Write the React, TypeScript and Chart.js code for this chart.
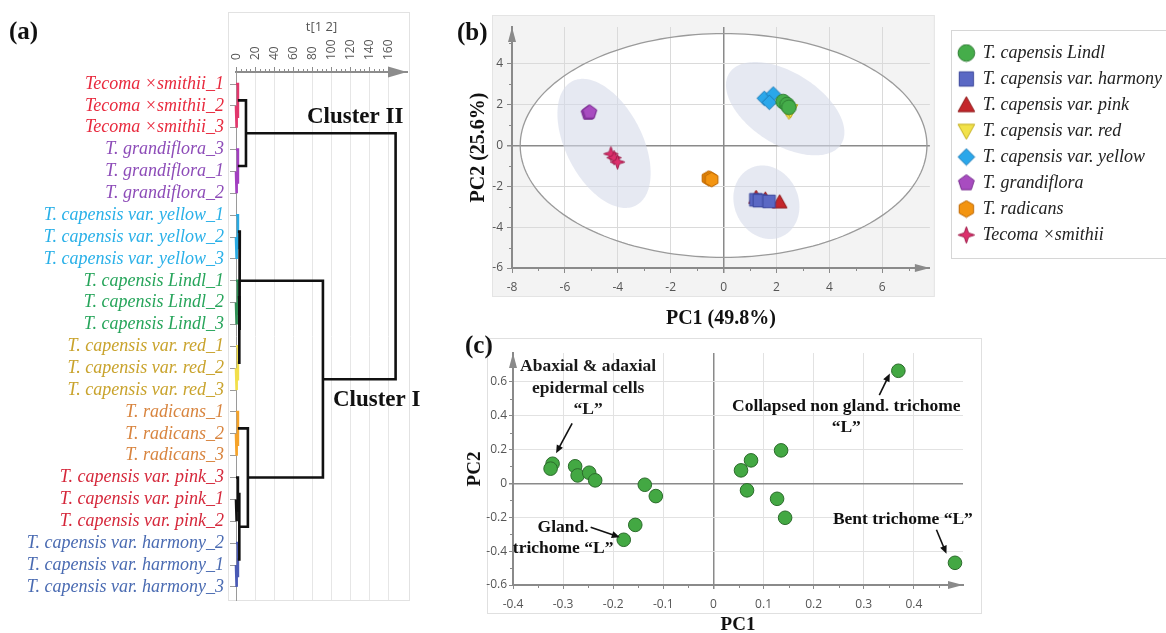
import React, { useEffect, useRef } from 'react';
import { Chart, registerables } from 'chart.js';

Chart.register(...registerables);

const SERIF = '"Liberation Serif", "Times New Roman", serif';
const SANS = '"Open Sans", "DejaVu Sans", Arial, sans-serif';

// ---------------- Panel (a): hierarchical clustering dendrogram ----------------
const leafLabels = [
  'Tecoma ×smithii_1', 'Tecoma ×smithii_2', 'Tecoma ×smithii_3',
  'T. grandiflora_3', 'T. grandiflora_1', 'T. grandiflora_2',
  'T. capensis var. yellow_1', 'T. capensis var. yellow_2', 'T. capensis var. yellow_3',
  'T. capensis Lindl_1', 'T. capensis Lindl_2', 'T. capensis Lindl_3',
  'T. capensis var. red_1', 'T. capensis var. red_2', 'T. capensis var. red_3',
  'T. radicans_1', 'T. radicans_2', 'T. radicans_3',
  'T. capensis var. pink_3', 'T. capensis var. pink_1', 'T. capensis var. pink_2',
  'T. capensis var. harmony_2', 'T. capensis var. harmony_1', 'T. capensis var. harmony_3',
];
const leafGroup = [0, 0, 0, 1, 1, 1, 2, 2, 2, 3, 3, 3, 4, 4, 4, 5, 5, 5, 6, 6, 6, 7, 7, 7];
const leafGroupColors = ['#e8293d', '#8d4cb8', '#29b0e8', '#27a55b', '#c9a32c', '#d8843e', '#d5283b', '#4a6bb2'];
const distanceTicks = [0, 20, 40, 60, 80, 100, 120, 140, 160];
// each merge joins two nodes (leaves 0..23, merged nodes 24..)
const mergePairs = [
  [1, 2], [0, 24],
  [4, 5], [3, 26],
  [25, 27],
  [7, 8], [6, 29],
  [10, 11], [9, 31],
  [13, 14], [12, 33],
  [32, 34],
  [30, 35],
  [16, 17], [15, 37],
  [19, 20], [18, 39],
  [22, 23], [21, 41],
  [40, 42],
  [38, 43],
  [36, 44],
  [28, 45],
];
const mergeHeights = [1, 2, 1, 2, 10.5, 1, 2, 1, 2, 1, 2, 3.5, 4, 1, 2, 1, 2, 1, 2, 3.5, 12.5, 91.5, 168];
const mergeColors = [
  '#e2386d', '#e2386d', '#a23fc0', '#a23fc0', '#111111',
  '#2aaae2', '#2aaae2', '#2f8f55', '#2f8f55', '#f2df4a', '#f2df4a',
  '#111111', '#111111', '#f5a32a', '#f5a32a', '#111111', '#111111',
  '#4a5ab5', '#4a5ab5', '#111111', '#111111', '#111111', '#111111',
];
const clusterNames = ['Cluster II', 'Cluster I'];
const clusterNameDistance = [74.7, 102];
const clusterNameLeafPos = [1.5, 14.45];

// ---------------- Panel (b): PCA score plot ----------------
const groupNames = [
  'T. capensis Lindl', 'T. capensis var. harmony', 'T. capensis var. pink', 'T. capensis var. red',
  'T. capensis var. yellow', 'T. grandiflora', 'T. radicans', 'Tecoma ×smithii',
];
const lindlPC1 = [2.25, 2.4, 2.47];
const lindlPC2 = [2.15, 2.0, 1.87];
const harmonyPC1 = [1.22, 1.35, 1.72];
const harmonyPC2 = [-2.66, -2.7, -2.74];
const pinkPC1 = [1.23, 1.58, 2.12];
const pinkPC2 = [-2.55, -2.63, -2.77];
const redPC1 = [2.4, 2.47, 2.53];
const redPC2 = [1.79, 1.63, 1.71];
const yellowPC1 = [1.54, 1.88, 1.73];
const yellowPC2 = [2.31, 2.52, 2.11];
const grandifloraPC1 = [-5.12, -5.09, -5.06];
const grandifloraPC2 = [1.58, 1.6, 1.63];
const radicansPC1 = [-0.57, -0.51, -0.45];
const radicansPC2 = [-1.6, -1.63, -1.67];
const smithiiPC1 = [-4.26, -4.14, -4.01];
const smithiiPC2 = [-0.41, -0.6, -0.81];
const groupPC1 = [lindlPC1, harmonyPC1, pinkPC1, redPC1, yellowPC1, grandifloraPC1, radicansPC1, smithiiPC1];
const groupPC2 = [lindlPC2, harmonyPC2, pinkPC2, redPC2, yellowPC2, grandifloraPC2, radicansPC2, smithiiPC2];
const groupShapes = ['circle', 'square', 'triUp', 'triDown', 'diamond', 'pentagon', 'hexagon', 'star4'];
const groupFill = ['#45ad4a', '#5a68c4', '#c4262b', '#f2e24a', '#2aa7ea', '#a84cc0', '#f39410', '#dd2f6c'];
const groupStroke = ['#2c7a31', '#38449a', '#8c1717', '#c2ac1c', '#1a78b5', '#772e8e', '#bd6600', '#9e1a48'];
const pcaXTicks = [-8, -6, -4, -2, 0, 2, 4, 6];
const pcaYTicks = [-6, -4, -2, 0, 2, 4];
const hotellingSemiAxes = [7.69, 5.48];
const clusterEllipseCenters = [[-4.52, 0.1], [2.33, 1.8], [1.62, -2.78]];
const clusterEllipseAxisU = [[1.19, -3.05], [2.11, -1.75], [0.15, -1.8]];
const clusterEllipseAxisV = [[-1.3, -0.83], [-0.75, -1.47], [1.24, 0]];

// ---------------- Panel (c): PCA loading plot ----------------
const loadingPC1 = [-0.321, -0.325, -0.276, -0.271, -0.248, -0.236, -0.137, -0.115, -0.156, -0.179, 0.055, 0.075, 0.067, 0.135, 0.127, 0.143, 0.369, 0.482];
const loadingPC2 = [0.116, 0.087, 0.101, 0.047, 0.063, 0.018, -0.008, -0.075, -0.245, -0.333, 0.077, 0.136, -0.041, 0.195, -0.091, -0.203, 0.665, -0.469];
const loadXTicks = [-0.4, -0.3, -0.2, -0.1, 0, 0.1, 0.2, 0.3, 0.4];
const loadYTicks = [-0.6, -0.4, -0.2, 0, 0.2, 0.4, 0.6];
const noteLines = [
  ['Abaxial & adaxial', 'epidermal cells', '“L”'],
  ['Gland.', 'trichome “L”'],
  ['Collapsed non gland. trichome', '“L”'],
  ['Bent trichome “L”'],
];
const noteX = [-0.25, -0.3, 0.265, 0.378];
const noteY = [[0.692, 0.562, 0.438], [-0.26, -0.385], [0.456, 0.333], [-0.213]];
const noteArrowFrom = [[-0.282, 0.355], [-0.245, -0.259], [0.331, 0.521], [0.445, -0.274]];
const noteArrowTo = [[-0.314, 0.178], [-0.187, -0.318], [0.352, 0.649], [0.465, -0.416]];

// ---------------- helpers ----------------
function makeMarker(shape: string, fill: string, stroke: string, size: number): HTMLCanvasElement {
  const c = document.createElement('canvas');
  c.width = size;
  c.height = size;
  const g = c.getContext('2d') as CanvasRenderingContext2D;
  const m = size / 2;
  const r = m - 1.2;
  const poly = (n: number, start: number, radii: number[]) => {
    for (let k = 0; k < n; k++) {
      const a = start + (k * 2 * Math.PI) / n;
      const rr = radii[k % radii.length];
      const x = m + rr * Math.cos(a);
      const y = m + rr * Math.sin(a);
      if (k === 0) g.moveTo(x, y);
      else g.lineTo(x, y);
    }
    g.closePath();
  };
  g.beginPath();
  if (shape === 'circle') g.arc(m, m, r, 0, Math.PI * 2);
  else if (shape === 'square') g.rect(m - r * 0.86, m - r * 0.86, r * 1.72, r * 1.72);
  else if (shape === 'triUp') {
    g.moveTo(m, m - r);
    g.lineTo(m + r, m + r * 0.8);
    g.lineTo(m - r, m + r * 0.8);
    g.closePath();
  } else if (shape === 'triDown') {
    g.moveTo(m, m + r);
    g.lineTo(m + r, m - r * 0.8);
    g.lineTo(m - r, m - r * 0.8);
    g.closePath();
  } else if (shape === 'diamond') poly(4, -Math.PI / 2, [r]);
  else if (shape === 'pentagon') poly(5, -Math.PI / 2, [r]);
  else if (shape === 'hexagon') poly(6, -Math.PI / 2, [r]);
  else poly(8, -Math.PI / 2, [r, r * 0.36]);
  g.fillStyle = fill;
  g.fill();
  g.lineWidth = 1;
  g.strokeStyle = stroke;
  g.stroke();
  return c;
}

function arrowHead(ctx: CanvasRenderingContext2D, tx: number, ty: number, dx: number, dy: number, len: number, half: number, color: string) {
  const d = Math.hypot(dx, dy) || 1;
  const ux = dx / d;
  const uy = dy / d;
  const bx = tx - ux * len;
  const by = ty - uy * len;
  ctx.beginPath();
  ctx.moveTo(tx, ty);
  ctx.lineTo(bx - uy * half, by + ux * half);
  ctx.lineTo(bx + uy * half, by - ux * half);
  ctx.closePath();
  ctx.fillStyle = color;
  ctx.fill();
}

function minorTicksX(ctx: CanvasRenderingContext2D, scale: any, values: number[], y0: number, len: number) {
  ctx.beginPath();
  values.forEach((v) => {
    const x = Math.round(scale.getPixelForValue(v)) + 0.5;
    ctx.moveTo(x, y0);
    ctx.lineTo(x, y0 + len);
  });
  ctx.stroke();
}
function minorTicksY(ctx: CanvasRenderingContext2D, scale: any, values: number[], x0: number, len: number) {
  ctx.beginPath();
  values.forEach((v) => {
    const y = Math.round(scale.getPixelForValue(v)) + 0.5;
    ctx.moveTo(x0, y);
    ctx.lineTo(x0 - len, y);
  });
  ctx.stroke();
}
const rangeStep = (a: number, b: number, s: number) => {
  const out: number[] = [];
  for (let v = a; v <= b + 1e-9; v += s) out.push(Math.round(v * 1000) / 1000);
  return out;
};

// ---------------- Panel (a) component ----------------
function DendrogramPanel() {
  const ref = useRef<HTMLCanvasElement>(null);
  useEffect(() => {
    const nodeY: number[] = leafLabels.map((_, i) => i);
    const nodeH: number[] = leafLabels.map(() => 0);
    mergePairs.forEach(([l, r], k) => {
      nodeY.push((nodeY[l] + nodeY[r]) / 2);
      nodeH.push(mergeHeights[k]);
    });
    const datasets = mergePairs.map(([l, r], k) => ({
      data: [
        { x: nodeH[l], y: nodeY[l] },
        { x: mergeHeights[k], y: nodeY[l] },
        { x: mergeHeights[k], y: nodeY[r] },
        { x: nodeH[r], y: nodeY[r] },
      ],
      showLine: true,
      borderColor: mergeColors[k],
      borderWidth: 2.6,
      pointRadius: 0,
      clip: false as any,
      order: mergeColors[k] === '#111111' ? 0 : 1,
    }));
    const decor = {
      id: 'dendroDecor',
      beforeDraw(chart: any) {
        const { ctx, chartArea: ca } = chart;
        ctx.save();
        ctx.strokeStyle = '#e2e2e2';
        ctx.lineWidth = 1;
        ctx.strokeRect(ca.left - 7.5, 12.5, ca.right - ca.left + 10, ca.bottom - 12);
        ctx.restore();
      },
      afterDraw(chart: any) {
        const { ctx, chartArea: ca, scales } = chart;
        const xs = scales.x;
        const ys = scales.y;
        ctx.save();
        ctx.strokeStyle = '#8c8c8c';
        ctx.lineWidth = 1;
        const minors = rangeStep(5, 155, 5).filter((v) => v % 20 !== 0);
        minorTicksX(ctx, xs, minors, ca.top, -3);
        arrowHead(ctx, ca.right, ca.top, 1, 0, 19, 5.5, '#8c8c8c');
        ctx.fillStyle = '#111';
        ctx.font = `bold 23px ${SERIF}`;
        ctx.textAlign = 'left';
        ctx.textBaseline = 'middle';
        clusterNames.forEach((t, i) => {
          ctx.fillText(t, xs.getPixelForValue(clusterNameDistance[i]), ys.getPixelForValue(clusterNameLeafPos[i]));
        });
        ctx.font = `bold 25px ${SERIF}`;
        ctx.fillText('(a)', 9, 33);
        ctx.restore();
      },
    };
    const chart = new Chart(ref.current as HTMLCanvasElement, {
      type: 'scatter',
      data: { datasets: datasets as any },
      options: {
        responsive: false,
        animation: false,
        events: [],
        layout: { padding: { left: 0, top: 0, right: 13, bottom: 33 } },
        plugins: { legend: { display: false }, tooltip: { enabled: false } },
        scales: {
          x: {
            type: 'linear',
            position: 'top',
            min: 0,
            max: 180,
            afterBuildTicks: (s: any) => {
              s.ticks = distanceTicks.map((v) => ({ value: v }));
            },
            afterFit: (s: any) => {
              s.height = 72;
            },
            ticks: { minRotation: 90, maxRotation: 90, autoSkip: false, padding: 7, labelOffset: 15, color: '#555', font: { family: SANS, size: 12 } },
            grid: { color: '#e6e6e6', tickColor: '#8c8c8c', tickLength: 5, lineWidth: 1 },
            border: { color: '#8c8c8c', width: 2 },
            title: { display: true, text: 't[1 2]', color: '#555', font: { family: SANS, size: 13 }, padding: { top: 19, bottom: 0 } },
          },
          y: {
            type: 'linear',
            reverse: true,
            min: -0.55,
            max: 23.6,
            afterBuildTicks: (s: any) => {
              s.ticks = leafLabels.map((_, i) => ({ value: i }));
            },
            afterFit: (s: any) => {
              s.width = 236;
            },
            ticks: {
              autoSkip: false,
              padding: 6,
              callback: (v: any) => leafLabels[Math.round(Number(v))],
              color: (c: any) => leafGroupColors[leafGroup[c.index]] || '#333',
              font: { family: SERIF, size: 18, style: 'italic' },
            },
            grid: { drawOnChartArea: false, color: '#9a9a9a', tickLength: 6 },
            border: { color: '#9a9a9a', width: 1 },
          },
        },
      },
      plugins: [decor],
    });
    return () => chart.destroy();
  }, []);
  return <canvas ref={ref} width={420} height={633} style={{ position: 'absolute', left: 0, top: 0, width: 420, height: 633 }} />;
}

// ---------------- Panel (b) component ----------------
function ScorePanel() {
  const ref = useRef<HTMLCanvasElement>(null);
  useEffect(() => {
    const chartMarkers = groupShapes.map((s, i) => makeMarker(s, groupFill[i], groupStroke[i], 17));
    const legendMarkers = groupShapes.map((s, i) => makeMarker(s, groupFill[i], groupStroke[i], 19));
    const datasets = groupNames.map((name, i) => ({
      label: name,
      data: groupPC1[i].map((x, j) => ({ x, y: groupPC2[i][j] })),
      pointStyle: chartMarkers[i] as any,
      pointRadius: 7,
      backgroundColor: groupFill[i],
      borderColor: groupStroke[i],
    }));
    const ellipsePath = (ctx: any, xs: any, ys: any, c: number[], u: number[], v: number[]) => {
      ctx.beginPath();
      for (let k = 0; k <= 180; k++) {
        const t = (k / 180) * Math.PI * 2;
        const x = c[0] + u[0] * Math.cos(t) + v[0] * Math.sin(t);
        const y = c[1] + u[1] * Math.cos(t) + v[1] * Math.sin(t);
        const px = xs.getPixelForValue(x);
        const py = ys.getPixelForValue(y);
        if (k === 0) ctx.moveTo(px, py);
        else ctx.lineTo(px, py);
      }
      ctx.closePath();
    };
    const decor = {
      id: 'scoreDecor',
      beforeDraw(chart: any) {
        const { ctx, chartArea: ca, scales } = chart;
        ctx.save();
        ctx.fillStyle = '#f3f3f3';
        ctx.fillRect(ca.left - 20, ca.top - 12, ca.right - ca.left + 25, ca.bottom - ca.top + 41);
        ctx.strokeStyle = '#e4e4e4';
        ctx.lineWidth = 1;
        ctx.strokeRect(ca.left - 19.5, ca.top - 11.5, ca.right - ca.left + 24, ca.bottom - ca.top + 40);
        ellipsePath(ctx, scales.x, scales.y, [0, 0], [hotellingSemiAxes[0], 0], [0, hotellingSemiAxes[1]]);
        ctx.fillStyle = '#ffffff';
        ctx.fill();
        ctx.restore();
      },
      beforeDatasetsDraw(chart: any) {
        const { ctx, scales } = chart;
        ctx.save();
        clusterEllipseCenters.forEach((c, i) => {
          ellipsePath(ctx, scales.x, scales.y, c, clusterEllipseAxisU[i], clusterEllipseAxisV[i]);
          ctx.fillStyle = 'rgba(214,219,233,0.6)';
          ctx.fill();
        });
        ellipsePath(ctx, scales.x, scales.y, [0, 0], [hotellingSemiAxes[0], 0], [0, hotellingSemiAxes[1]]);
        ctx.strokeStyle = '#9a9a9a';
        ctx.lineWidth = 1.3;
        ctx.stroke();
        ctx.restore();
      },
      afterDraw(chart: any) {
        const { ctx, chartArea: ca, scales, legend } = chart;
        ctx.save();
        ctx.strokeStyle = '#8a8a8a';
        ctx.lineWidth = 1;
        minorTicksX(ctx, scales.x, rangeStep(-7, 7, 2), ca.bottom, 3);
        minorTicksY(ctx, scales.y, rangeStep(-5, 5, 2), ca.left, 3);
        arrowHead(ctx, ca.right, ca.bottom, 1, 0, 15, 4, '#8a8a8a');
        arrowHead(ctx, ca.left, ca.top, 0, -1, 15, 4, '#8a8a8a');
        ctx.strokeStyle = '#d6d6d6';
        ctx.strokeRect(Math.round(legend.left) + 0.5, 30.5, 400, 228);
        ctx.fillStyle = '#111';
        ctx.font = `bold 25px ${SERIF}`;
        ctx.textAlign = 'left';
        ctx.textBaseline = 'middle';
        ctx.fillText('(b)', 7, 34);
        ctx.restore();
      },
    };
    const gridColor = (c: any) => (c.tick && c.tick.value === 0 ? '#8a8a8a' : '#dadada');
    const gridWidth = (c: any) => (c.tick && c.tick.value === 0 ? 1.5 : 1);
    const chart = new Chart(ref.current as HTMLCanvasElement, {
      type: 'scatter',
      data: { datasets: datasets as any },
      options: {
        responsive: false,
        animation: false,
        events: [],
        layout: { padding: { left: 17, top: 27, right: 18, bottom: 4 } },
        plugins: {
          tooltip: { enabled: false },
          legend: {
            position: 'right',
            align: 'start',
            maxWidth: 224,
            title: { display: true, text: ' ', font: { size: 7, lineHeight: 1 }, padding: { top: 1, bottom: 1 } },
            labels: {
              usePointStyle: true,
              boxWidth: 15,
              boxHeight: 15,
              padding: 8,
              color: '#222',
              font: { family: SERIF, size: 18, style: 'italic' },
              generateLabels: (ch: any) => {
                const items = (Chart as any).defaults.plugins.legend.labels.generateLabels(ch);
                items.forEach((it: any) => {
                  it.pointStyle = legendMarkers[it.datasetIndex];
                });
                return items;
              },
            },
          } as any,
        },
        scales: {
          x: {
            type: 'linear',
            min: -8,
            max: 7.8,
            afterBuildTicks: (s: any) => {
              s.ticks = pcaXTicks.map((v) => ({ value: v }));
            },
            afterFit: (s: any) => {
              s.height = 63;
            },
            grid: { color: gridColor, lineWidth: gridWidth, tickColor: '#8a8a8a', tickLength: 5 },
            border: { color: '#8a8a8a', width: 2 },
            ticks: { color: '#555', font: { family: SANS, size: 12 }, padding: 7, maxRotation: 0, autoSkip: false },
            title: { display: true, text: 'PC1 (49.8%)', color: '#111', font: { family: SERIF, size: 20, weight: 'bold' }, padding: 0 },
          },
          y: {
            type: 'linear',
            min: -6,
            max: 5.8,
            afterBuildTicks: (s: any) => {
              s.ticks = pcaYTicks.map((v) => ({ value: v }));
            },
            afterFit: (s: any) => {
              s.width = 45;
            },
            grid: { color: gridColor, lineWidth: gridWidth, tickColor: '#8a8a8a', tickLength: 5 },
            border: { color: '#8a8a8a', width: 2 },
            ticks: { color: '#555', font: { family: SANS, size: 12 }, padding: 4, autoSkip: false },
            title: { display: true, text: 'PC2 (25.6%)', color: '#111', font: { family: SERIF, size: 20, weight: 'bold' }, padding: 0 },
          },
          gap: {
            type: 'linear',
            position: 'right',
            display: true,
            afterFit: (s: any) => {
              s.width = 21;
            },
            grid: { display: false },
            ticks: { display: false },
            border: { display: false },
          },
        },
      } as any,
      plugins: [decor],
    });
    return () => chart.destroy();
  }, []);
  return <canvas ref={ref} width={740} height={335} style={{ position: 'absolute', left: 450, top: 0, width: 740, height: 335 }} />;
}

// ---------------- Panel (c) component ----------------
function LoadingPanel() {
  const ref = useRef<HTMLCanvasElement>(null);
  useEffect(() => {
    const decor = {
      id: 'loadingDecor',
      beforeDraw(chart: any) {
        const { ctx, chartArea: ca } = chart;
        ctx.save();
        ctx.fillStyle = '#ffffff';
        ctx.fillRect(ca.left - 26, ca.top - 15, ca.right - ca.left + 45, ca.bottom - ca.top + 44);
        ctx.strokeStyle = '#e0e0e0';
        ctx.lineWidth = 1;
        ctx.strokeRect(ca.left - 25.5, ca.top - 14.5, ca.right - ca.left + 44, ca.bottom - ca.top + 43);
        ctx.restore();
      },
      afterDraw(chart: any) {
        const { ctx, chartArea: ca, scales } = chart;
        const xs = scales.x;
        const ys = scales.y;
        ctx.save();
        ctx.strokeStyle = '#8a8a8a';
        ctx.lineWidth = 1;
        minorTicksX(ctx, xs, rangeStep(-0.35, 0.45, 0.1), ca.bottom, 3);
        minorTicksY(ctx, ys, rangeStep(-0.5, 0.7, 0.2), ca.left, 3);
        arrowHead(ctx, ca.right, ca.bottom, 1, 0, 15, 4, '#8a8a8a');
        arrowHead(ctx, ca.left, ca.top, 0, -1, 15, 4, '#8a8a8a');
        // annotations
        ctx.fillStyle = '#1a1a1a';
        ctx.font = `bold 17.5px ${SERIF}`;
        ctx.textAlign = 'center';
        ctx.textBaseline = 'middle';
        noteLines.forEach((lines, i) => {
          lines.forEach((t, j) => {
            ctx.fillText(t, xs.getPixelForValue(noteX[i]), ys.getPixelForValue(noteY[i][j]));
          });
          const fx = xs.getPixelForValue(noteArrowFrom[i][0]);
          const fy = ys.getPixelForValue(noteArrowFrom[i][1]);
          const tx = xs.getPixelForValue(noteArrowTo[i][0]);
          const ty = ys.getPixelForValue(noteArrowTo[i][1]);
          const d = Math.hypot(tx - fx, ty - fy);
          ctx.beginPath();
          ctx.moveTo(fx, fy);
          ctx.lineTo(tx - ((tx - fx) / d) * 6, ty - ((ty - fy) / d) * 6);
          ctx.strokeStyle = '#111';
          ctx.lineWidth = 1.6;
          ctx.stroke();
          arrowHead(ctx, tx, ty, tx - fx, ty - fy, 8, 3.5, '#111');
        });
        ctx.textAlign = 'left';
        ctx.font = `bold 25px ${SERIF}`;
        ctx.fillText('(c)', 5, 17);
        ctx.restore();
      },
    };
    const isZero = (c: any) => c.tick && Math.abs(c.tick.value) < 1e-9;
    const chart = new Chart(ref.current as HTMLCanvasElement, {
      type: 'scatter',
      data: {
        datasets: [
          {
            label: 'Loadings',
            data: loadingPC1.map((x, i) => ({ x, y: loadingPC2[i] })),
            pointRadius: 6.8,
            backgroundColor: '#43a843',
            borderColor: '#2b6b2b',
            borderWidth: 1,
          },
        ],
      },
      options: {
        responsive: false,
        animation: false,
        events: [],
        layout: { padding: { left: 3.6, top: 23, right: 27, bottom: 3.6 } },
        plugins: { legend: { display: false }, tooltip: { enabled: false } },
        scales: {
          x: {
            type: 'linear',
            min: -0.4,
            max: 0.498,
            afterBuildTicks: (s: any) => {
              s.ticks = loadXTicks.map((v) => ({ value: v }));
            },
            afterFit: (s: any) => {
              s.height = 51.4;
            },
            grid: { color: (c: any) => (isZero(c) ? '#8a8a8a' : '#e2e2e2'), lineWidth: (c: any) => (isZero(c) ? 1.5 : 1), tickColor: '#8a8a8a', tickLength: 4 },
            border: { color: '#8a8a8a', width: 2 },
            ticks: { color: '#555', font: { family: SANS, size: 12 }, padding: 8, maxRotation: 0, autoSkip: false, callback: (v: any) => String(v) },
            title: { display: true, text: 'PC1', color: '#111', font: { family: SERIF, size: 19, weight: 'bold' }, padding: 0 },
          },
          y: {
            type: 'linear',
            min: -0.6,
            max: 0.77,
            afterBuildTicks: (s: any) => {
              s.ticks = loadYTicks.map((v) => ({ value: v }));
            },
            afterFit: (s: any) => {
              s.width = 49.4;
            },
            grid: { color: (c: any) => (isZero(c) ? '#8a8a8a' : '#e2e2e2'), lineWidth: (c: any) => (isZero(c) ? 1.5 : 1), tickColor: '#8a8a8a', tickLength: 4 },
            border: { color: '#8a8a8a', width: 2 },
            ticks: { color: '#555', font: { family: SANS, size: 12 }, padding: 2, autoSkip: false, callback: (v: any) => String(v) },
            title: { display: true, text: 'PC2', color: '#111', font: { family: SERIF, size: 19, weight: 'bold' }, padding: 0 },
          },
        },
      } as any,
      plugins: [decor],
    });
    return () => chart.destroy();
  }, []);
  return <canvas ref={ref} width={530} height={310} style={{ position: 'absolute', left: 460, top: 330, width: 530, height: 310 }} />;
}

export default function App() {
  return (
    <div style={{ position: 'fixed', left: 0, top: 0, width: 1166, height: 633, overflow: 'hidden', background: '#ffffff' }}>
      <DendrogramPanel />
      <ScorePanel />
      <LoadingPanel />
    </div>
  );
}
